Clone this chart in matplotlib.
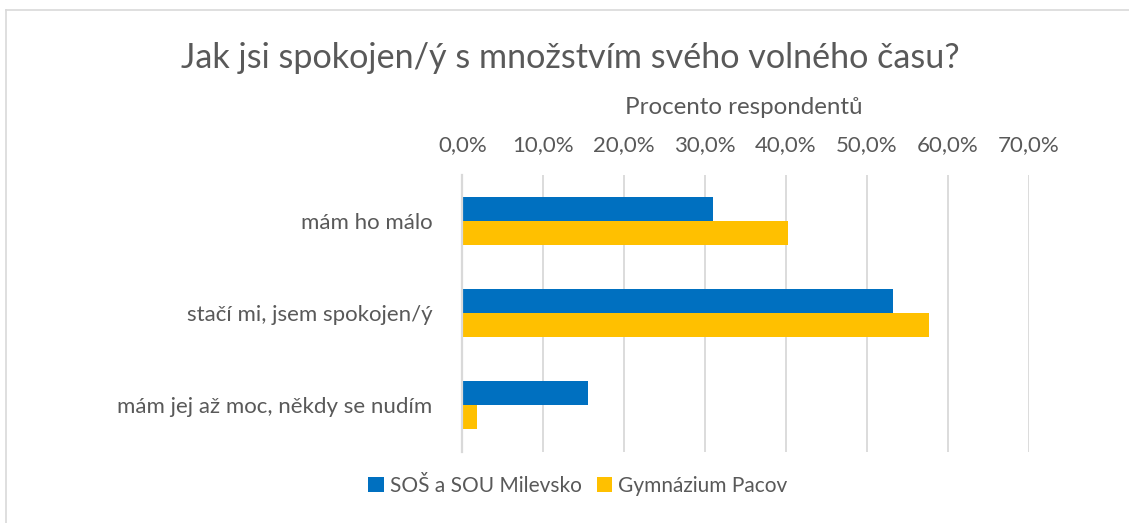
import matplotlib
matplotlib.use("Agg")
import matplotlib.pyplot as plt
from matplotlib.lines import Line2D
from matplotlib.ticker import FuncFormatter

categories = ["mám ho málo", "stačí mi, jsem spokojen/ý", "mám jej až moc, někdy se nudím"]
series_names = ["SOŠ a SOU Milevsko", "Gymnázium Pacov"]
milevsko = [0.310, 0.533, 0.155]
pacov = [0.403, 0.577, 0.018]
xticks = [0.0, 0.1, 0.2, 0.3, 0.4, 0.5, 0.6, 0.7]

BLUE = "#0070C0"
GOLD = "#FFC000"
TXT = "#595959"
GRID = "#D9D9D9"
FONT = "Lato"

plt.rcParams["font.family"] = [FONT, "DejaVu Sans"]

W, H = 1129, 523
fig = plt.figure(figsize=(W / 100, H / 100), dpi=100)
fig.patch.set_facecolor("white")

left, right, top, bottom = 462.3, 1028.6, 175, 451.5
ax = fig.add_axes([left / W, 1 - bottom / H, (right - left) / W, (bottom - top) / H])

y = list(range(len(categories)))
h = 0.261
ax.barh([v - h / 2 for v in y], milevsko, height=h, color=BLUE, label=series_names[0], zorder=3)
ax.barh([v + h / 2 for v in y], pacov, height=h, color=GOLD, label=series_names[1], zorder=3)

ax.set_xlim(0, 0.7)
ax.set_ylim(len(categories) - 0.5, -0.5)
ax.set_xticks(xticks)
ax.xaxis.set_major_formatter(FuncFormatter(lambda v, p: f"{v*100:.1f}%".replace(".", ",")))
ax.xaxis.tick_top()
ax.tick_params(axis="x", length=0, pad=14, labelsize=16, labelcolor=TXT)
ax.set_yticks(y)
ax.set_yticklabels(categories)
ax.tick_params(axis="y", length=0, pad=21.5, labelsize=16, labelcolor=TXT)
ax.grid(axis="x", color=GRID, linewidth=1.3, zorder=0)
for s in ["top", "right", "bottom"]:
    ax.spines[s].set_visible(False)
ax.spines["left"].set_color(GRID)
ax.spines["left"].set_linewidth(1.6)
ax.spines["left"].set_zorder(4)

fig.text(570 / W, 1 - 58 / H, "Jak jsi spokojen/ý s množstvím svého volného času?",
         ha="center", va="center", fontsize=24.6, color=TXT)
fig.text(744 / W, 1 - 107 / H, "Procento respondentů",
         ha="center", va="center", fontsize=17.4, color=TXT)

leg = fig.legend(loc="center", bbox_to_anchor=(578 / W, 1 - 486 / H), ncol=2, frameon=False,
                 fontsize=15, handlelength=0.75, handleheight=0.75, handletextpad=0.3,
                 columnspacing=0.7, labelcolor=TXT)

fig.add_artist(Line2D([6 / W, 6 / W], [0, 1 - 10 / H], color=GRID, linewidth=1.2))
fig.add_artist(Line2D([6 / W, 1], [1 - 10 / H, 1 - 10 / H], color=GRID, linewidth=1.2))

fig.savefig("out.png", dpi=100, facecolor="white")
